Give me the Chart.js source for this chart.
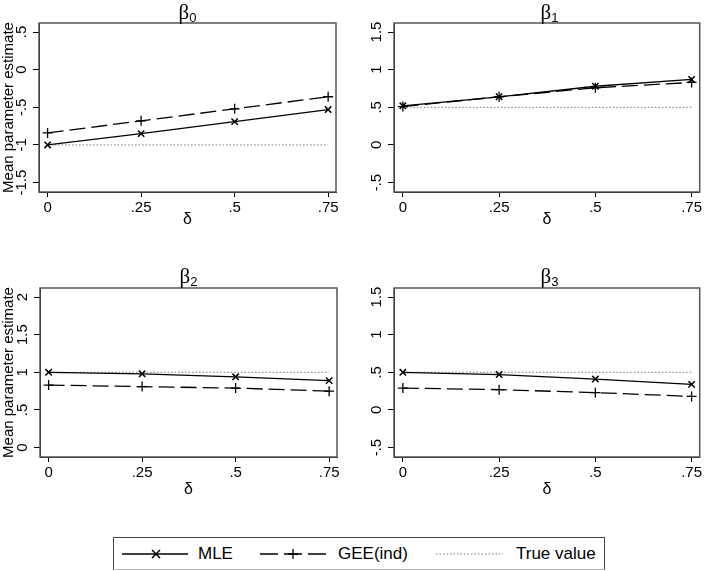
<!DOCTYPE html>
<html>
<head>
<meta charset="utf-8">
<script src="https://cdn.jsdelivr.net/npm/chart.js@4.4.1/dist/chart.umd.min.js"></script>
<style>
  body { margin: 0; background: #fff; }
  #wrap { position: relative; width: 706px; height: 571px; font-family: "Liberation Sans", Arial, sans-serif; }
  canvas { position: absolute; }
  .ptitle { position: absolute; text-align: center; font-family: "Liberation Serif", "Times New Roman", serif; font-size: 21px; line-height: 22px; }
  .ptitle sub { font-family: "Liberation Sans", Arial, sans-serif; font-size: 13px; vertical-align: -3px; }
  #legend { position: absolute; left: 113px; top: 537px; width: 490px; height: 31px; border: 1px solid #444; border-bottom-color: #bbb; }
  #legend span { position: absolute; top: 6px; font-size: 17px; }
  #legend svg { position: absolute; top: 0; left: 0; }
</style>
</head>
<body>
<div id="wrap">
  <canvas id="c0" width="353" height="230" style="left:0;top:0"></canvas>
  <canvas id="c1" width="353" height="230" style="left:353px;top:0"></canvas>
  <canvas id="c2" width="353" height="270" style="left:0;top:230px"></canvas>
  <canvas id="c3" width="353" height="270" style="left:353px;top:230px"></canvas>
  <div class="ptitle" style="left:39px;top:1px;width:297px">β<sub>0</sub></div>
  <div class="ptitle" style="left:394px;top:1px;width:311px">β<sub>1</sub></div>
  <div class="ptitle" style="left:40px;top:265px;width:297px">β<sub>2</sub></div>
  <div class="ptitle" style="left:394px;top:265px;width:311px">β<sub>3</sub></div>
  <div id="legend">
    <svg width="490" height="31">
      <line x1="8" y1="16" x2="74" y2="16" stroke="#000" stroke-width="1.3"/>
      <path d="M38 12 L46 20 M46 12 L38 20" stroke="#000" stroke-width="1.5"/>
      <line x1="146" y1="16" x2="212" y2="16" stroke="#000" stroke-width="1.3" stroke-dasharray="18 6"/>
      <path d="M179 11 L179 21 M174 16 L184 16" stroke="#000" stroke-width="1.3"/>
      <line x1="322" y1="16" x2="389" y2="16" stroke="#777" stroke-width="1" stroke-dasharray="1.5 2"/>
    </svg>
    <span style="left:84px">MLE</span>
    <span style="left:224px">GEE(ind)</span>
    <span style="left:402px">True value</span>
  </div>
</div>
<script>
const deltaValues = [0, 0.25, 0.5, 0.75];
const xTickLabels = ["0", ".25", ".5", ".75"];

const mleB0 = [-1.00, -0.85, -0.69, -0.53];
const geeB0 = [-0.84, -0.68, -0.52, -0.36];
const mleB1 = [0.52, 0.64, 0.78, 0.87];
const geeB1 = [0.51, 0.64, 0.76, 0.83];
const mleB2 = [1.00, 0.98, 0.94, 0.89];
const geeB2 = [0.83, 0.81, 0.79, 0.75];
const mleB3 = [0.50, 0.47, 0.41, 0.34];
const geeB3 = [0.29, 0.27, 0.23, 0.18];
const trueValues = [-1, 0.5, 1, 0.5];

const yTicksB0 = [-1.5, -1, -0.5, 0, 0.5];
const yLabelsB0 = ["-1.5", "-1", "-.5", "0", ".5"];
const yTicksB1 = [-0.5, 0, 0.5, 1, 1.5];
const yLabelsB1 = ["-.5", "0", ".5", "1", "1.5"];
const yTicksB2 = [0, 0.5, 1, 1.5, 2];
const yLabelsB2 = ["0", ".5", "1", "1.5", "2"];

const FONT = '"Liberation Sans", Arial, sans-serif';

// Stata style: y tick labels rotated, plus a frame around the plot region
const stataBits = {
  id: "stataBits",
  afterDraw(chart, args, opts) {
    const { ctx, chartArea } = chart;
    const ys = chart.scales.y;
    ctx.save();
    ctx.strokeStyle = "#555";
    ctx.lineWidth = 1.5;
    ctx.strokeRect(chartArea.left, chartArea.top, chartArea.right - chartArea.left, chartArea.bottom - chartArea.top);
    ctx.fillStyle = "#000";
    ctx.font = "15px " + FONT;
    ctx.textAlign = "center";
    ctx.textBaseline = "middle";
    opts.values.forEach((v, i) => {
      ctx.save();
      ctx.translate(chartArea.left - 17, ys.getPixelForValue(v));
      ctx.rotate(-Math.PI / 2);
      ctx.fillText(opts.labels[i], 0, 0);
      ctx.restore();
    });
    ctx.restore();
  }
};

function makePanel(id, mle, gee, truth, yMin, yMax, yTicks, yLabels, opt) {
  const pts = (arr) => deltaValues.map((d, i) => ({ x: d, y: arr[i] }));
  new Chart(document.getElementById(id), {
    type: "line",
    data: {
      datasets: [
        {
          label: "MLE", data: pts(mle),
          borderColor: "#000", borderWidth: 1.3,
          pointStyle: "crossRot", pointRadius: 4.5, pointBorderWidth: 1.5,
          pointBorderColor: "#000"
        },
        {
          label: "GEE(ind)", data: pts(gee),
          borderColor: "#000", borderWidth: 1.3, borderDash: [16, 6],
          pointStyle: "cross", pointRadius: 5, pointBorderWidth: 1.3,
          pointBorderColor: "#000"
        },
        {
          label: "True value", data: pts(deltaValues.map(() => truth)),
          borderColor: "#777", borderWidth: 1, borderDash: [1.5, 2],
          pointRadius: 0
        }
      ]
    },
    options: {
      responsive: false,
      animation: false,
      layout: { padding: { top: opt.top, right: opt.right, left: 0, bottom: 0 } },
      plugins: {
        legend: { display: false },
        tooltip: { enabled: false },
        stataBits: { values: yTicks, labels: yLabels }
      },
      scales: {
        x: {
          type: "linear", min: -0.023, max: 0.771,
          afterBuildTicks: (s) => { s.ticks = deltaValues.map((v) => ({ value: v })); },
          afterFit: (s) => { s.height = opt.xh; },
          ticks: {
            autoSkip: false, maxRotation: 0, padding: 2, color: "#000",
            font: { family: FONT, size: 15 },
            callback: (v) => xTickLabels[deltaValues.indexOf(v)]
          },
          grid: { drawOnChartArea: false, drawTicks: true, tickLength: 5, color: "#000" },
          border: { display: true, color: "#000" },
          title: { display: true, text: "δ", color: "#000", font: { family: FONT, size: 16 }, padding: { top: 0, bottom: 1 } }
        },
        y: {
          min: yMin, max: yMax,
          afterBuildTicks: (s) => { s.ticks = yTicks.map((v) => ({ value: v })); },
          afterFit: (s) => { s.width = opt.yw; },
          ticks: { display: false },
          grid: { drawOnChartArea: false, drawTicks: true, tickLength: 6, color: "#000" },
          border: { display: true, color: "#000" },
          title: {
            display: opt.yTitle, text: "Mean parameter estimate", color: "#000",
            font: { family: FONT, size: 15 }, padding: { top: 0, bottom: 0 }
          }
        }
      }
    },
    plugins: [stataBits]
  });
}

makePanel("c0", mleB0, geeB0, trueValues[0], -1.625, 0.62, yTicksB0, yLabelsB0, { top: 23, right: 17, xh: 38, yw: 39, yTitle: true });
makePanel("c1", mleB1, geeB1, trueValues[1], -0.625, 1.62, yTicksB1, yLabelsB1, { top: 23, right: 1, xh: 38, yw: 41, yTitle: false });
makePanel("c2", mleB2, geeB2, trueValues[2], -0.125, 2.12, yTicksB2, yLabelsB2, { top: 58, right: 16, xh: 43, yw: 40, yTitle: true });
makePanel("c3", mleB3, geeB3, trueValues[3], -0.625, 1.62, yTicksB1, yLabelsB1, { top: 58, right: 1, xh: 43, yw: 41, yTitle: false });
</script>
</body>
</html>
